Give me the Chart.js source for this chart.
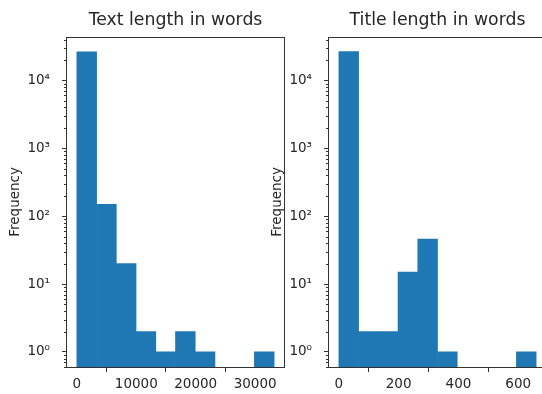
<!DOCTYPE html>
<html>
<head>
<meta charset="utf-8">
<script src="https://cdn.jsdelivr.net/npm/chart.js@4.4.0/dist/chart.umd.min.js"></script>
<style>
html, body { margin: 0; padding: 0; background: #fff; }
body { width: 542px; height: 394px; overflow: hidden; position: relative; }
canvas { position: absolute; top: 0; }
</style>
</head>
<body>
<canvas id="textChart" width="290" height="394" style="left:0px"></canvas>
<canvas id="titleChart" width="290" height="394" style="left:262px"></canvas>
<script>
// histogram bins
const textBinEdges = [0, 3320, 6640, 9960, 13280, 16600, 19920, 23240, 26560, 29880, 33200];
const textCounts = [26400, 150, 20, 2, 1, 2, 1, 0, 0, 1];
const titleBinEdges = [0, 66, 132, 198, 264, 330, 396, 462, 528, 594, 660];
const titleCounts = [26510, 2, 2, 15, 46, 1, 0, 0, 0, 1];

const textXTicks = [0, 10000, 20000, 30000];
const titleXTicks = [0, 200, 400, 600];
const yTickValues = [1, 10, 100, 1000, 10000];
const yTickLabels = ['10⁰', '10¹', '10²', '10³', '10⁴'];
const yMinorMultipliers = [2, 3, 4, 5, 6, 7, 8, 9];

const ink = '#262626';
const spine = '#333';
Chart.defaults.font.family = 'DejaVu Sans';
Chart.defaults.color = ink;

// matplotlib style box + minor log ticks
const axesFrame = {
    id: 'axesFrame',
    afterDraw(chart) {
        const { ctx, chartArea: a, scales: { y } } = chart;
        ctx.save();
        ctx.strokeStyle = spine;
        ctx.lineWidth = 1;
        ctx.beginPath();
        for (let e = -1; e <= 5; e++) {
            for (const m of yMinorMultipliers) {
                const v = m * Math.pow(10, e);
                if (v < y.min || v > y.max) continue;
                const py = Math.round(y.getPixelForValue(v)) + 0.5;
                ctx.moveTo(a.left - 3, py);
                ctx.lineTo(a.left, py);
            }
        }
        ctx.stroke();
        ctx.strokeRect(Math.round(a.left) - 0.5, Math.round(a.top) + 0.5,
            Math.round(a.right - a.left) + 1, Math.round(a.bottom - a.top));
        ctx.restore();
    }
};

function histogram(canvasId, title, edges, counts, xTicks) {
    const bins = counts.map((c, i) => ({
        x: (edges[i] + edges[i + 1]) / 2,
        y: c > 0 ? c : null
    }));
    const margin = (edges[edges.length - 1] - edges[0]) * 0.05;

    return new Chart(document.getElementById(canvasId), {
        type: 'bar',
        data: {
            datasets: [{
                data: bins,
                backgroundColor: '#1f77b4',
                borderWidth: 0,
                barPercentage: 1,
                categoryPercentage: 1
            }]
        },
        options: {
            responsive: false,
            animation: false,
            layout: { padding: { left: 0, right: 6, top: 0, bottom: 0 } },
            scales: {
                x: {
                    type: 'linear',
                    offset: false,
                    bounds: 'data',
                    min: edges[0] - margin,
                    max: edges[edges.length - 1] + margin,
                    afterFit: (s) => { s.height = 27; },
                    afterBuildTicks: (s) => { s.ticks = xTicks.map(v => ({ value: v })); },
                    ticks: {
                        callback: (v) => String(v),
                        padding: 4,
                        font: { size: 13.5 },
                        color: ink,
                        maxRotation: 0
                    },
                    grid: { drawOnChartArea: false, tickLength: 5, color: spine },
                    border: { display: false }
                },
                y: {
                    type: 'logarithmic',
                    bounds: 'data',
                    min: 0.6,
                    max: 44000,
                    afterFit: (s) => { s.width = 67; },
                    afterBuildTicks: (s) => { s.ticks = yTickValues.map(v => ({ value: v })); },
                    ticks: {
                        callback: (v) => {
                            const i = yTickValues.indexOf(v);
                            return i >= 0 ? yTickLabels[i] : '';
                        },
                        padding: 12,
                        font: { size: 13.5 },
                        color: ink,
                        autoSkip: false
                    },
                    grid: { drawOnChartArea: false, tickLength: 5, color: spine },
                    border: { display: false },
                    title: {
                        display: true,
                        text: 'Frequency',
                        font: { size: 13.5 },
                        color: ink,
                        padding: { top: 7, bottom: 0 }
                    }
                }
            },
            plugins: {
                legend: { display: false },
                tooltip: { enabled: false },
                title: {
                    display: true,
                    fullSize: false,
                    text: title,
                    font: { size: 17.3, weight: 'normal' },
                    color: ink,
                    padding: { top: 10, bottom: 6 }
                }
            }
        },
        plugins: [axesFrame]
    });
}

histogram('textChart', 'Text length in words', textBinEdges, textCounts, textXTicks);
histogram('titleChart', 'Title length in words', titleBinEdges, titleCounts, titleXTicks);
</script>
</body>
</html>
